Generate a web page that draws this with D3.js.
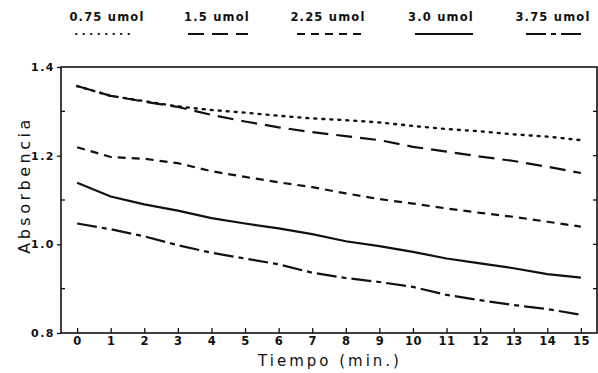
<!DOCTYPE html>
<html>
<head>
<meta charset="utf-8">
<script src="https://cdn.jsdelivr.net/npm/d3@7"></script>
<style>
  body { margin: 0; background: #fff; }
  text { font-family: "DejaVu Sans", sans-serif; fill: #111; }
</style>
</head>
<body>
<div id="chart"></div>
<script>
// time in minutes
const minutes = [0, 1, 2, 3, 4, 5, 6, 7, 8, 9, 10, 11, 12, 13, 14, 15];
const xTicks = minutes;
const yTicks = [0.8, 1.0, 1.2, 1.4];
const yMinor = [0.9, 1.1, 1.3];

// absorbance readings per concentration
const umol075 = [1.357, 1.335, 1.323, 1.311, 1.303, 1.297, 1.290, 1.284, 1.280, 1.275, 1.267, 1.260, 1.255, 1.248, 1.243, 1.235];
const umol150 = [1.357, 1.335, 1.322, 1.310, 1.292, 1.277, 1.264, 1.253, 1.244, 1.235, 1.220, 1.209, 1.198, 1.188, 1.175, 1.161];
const umol225 = [1.219, 1.197, 1.193, 1.183, 1.165, 1.152, 1.140, 1.129, 1.115, 1.102, 1.092, 1.081, 1.071, 1.062, 1.051, 1.040];
const umol300 = [1.139, 1.108, 1.090, 1.076, 1.059, 1.047, 1.036, 1.023, 1.007, 0.996, 0.983, 0.968, 0.957, 0.946, 0.933, 0.925];
const umol375 = [1.047, 1.034, 1.018, 0.998, 0.981, 0.968, 0.955, 0.936, 0.924, 0.915, 0.904, 0.886, 0.874, 0.863, 0.854, 0.841];

const labels = ["0.75 umol", "1.5 umol", "2.25 umol", "3.0 umol", "3.75 umol"];
const series = [umol075, umol150, umol225, umol300, umol375];
const dashes = ["2,6", "16,8", "8,6", null, "20,5,5,5"];

const width = 598, height = 373;
const margin = {top: 67, right: 1, bottom: 40, left: 61};

const svg = d3.select("#chart").append("svg")
  .attr("width", width)
  .attr("height", height);

const x = d3.scaleLinear()
  .domain([-0.48, 15.48])
  .range([margin.left, width - margin.right]);
const y = d3.scaleLinear()
  .domain([0.8, 1.4])
  .range([height - margin.bottom, margin.top]);

// frame
svg.append("rect")
  .attr("x", x.range()[0]).attr("y", y(1.4))
  .attr("width", x.range()[1] - x.range()[0])
  .attr("height", y(0.8) - y(1.4))
  .attr("fill", "none").attr("stroke", "#111").attr("stroke-width", 1.6);

// x axis, ticks point up into the plot
const xAxis = svg.append("g")
  .attr("transform", "translate(0," + y(0.8) + ")")
  .call(d3.axisBottom(x).tickValues(xTicks).tickSizeInner(-5).tickSizeOuter(0).tickPadding(4));
xAxis.select(".domain").remove();
xAxis.selectAll("line").attr("stroke", "#111").attr("stroke-width", 1.3);
xAxis.selectAll("text")
  .style("font-size", "11.5px").style("font-weight", "bold").style("letter-spacing", "0.5px");

// y axis
const yAxis = svg.append("g")
  .attr("transform", "translate(" + x.range()[0] + ",0)")
  .call(d3.axisLeft(y).tickValues(yTicks).tickFormat(d3.format(".1f")).tickSizeInner(4).tickSizeOuter(0).tickPadding(2));
yAxis.select(".domain").remove();
yAxis.selectAll("line").attr("stroke", "#111").attr("stroke-width", 1.3);
yAxis.selectAll("text")
  .style("font-size", "11px").style("font-weight", "bold").style("letter-spacing", "1.5px");

// minor ticks inside, both sides
svg.append("g").selectAll("line")
  .data(yMinor)
  .join("line")
    .attr("x1", x.range()[0]).attr("x2", x.range()[0] + 4)
    .attr("y1", d => y(d)).attr("y2", d => y(d))
    .attr("stroke", "#111").attr("stroke-width", 1.3);
svg.append("g").selectAll("line")
  .data(yMinor.concat([1.0, 1.2]))
  .join("line")
    .attr("x1", x.range()[1]).attr("x2", x.range()[1] - 4)
    .attr("y1", d => y(d)).attr("y2", d => y(d))
    .attr("stroke", "#111").attr("stroke-width", 1.3);

// axis titles
svg.append("text")
  .attr("x", 330).attr("y", 366)
  .attr("text-anchor", "middle")
  .style("font-size", "15px").style("letter-spacing", "3px")
  .text("Tiempo (min.)");
svg.append("text")
  .attr("transform", "translate(30,185) rotate(-90)")
  .attr("text-anchor", "middle")
  .style("font-size", "16px").style("letter-spacing", "3.5px")
  .text("Absorbencia");

// data lines
const line = d3.line()
  .x((d, i) => x(minutes[i]))
  .y(d => y(d));

svg.append("g").selectAll("path")
  .data(series)
  .join("path")
    .attr("d", line)
    .attr("fill", "none")
    .attr("stroke", "#111")
    .attr("stroke-width", (d, i) => i === 0 ? 2.4 : 2.2)
    .attr("stroke-linecap", (d, i) => i === 0 ? "round" : "butt")
    .attr("stroke-dasharray", (d, i) => dashes[i]);

// legend
const legendX = [107, 217, 328, 441, 553];
const legendSpan = [[76, 130], [188, 248], [297, 361], [415, 473], [526, 585]];
const legend = svg.append("g").selectAll("g")
  .data(labels)
  .join("g");
legend.append("text")
  .attr("x", (d, i) => legendX[i]).attr("y", 21)
  .attr("text-anchor", "middle")
  .style("font-size", "11.5px").style("font-weight", "bold").style("letter-spacing", "1.2px")
  .text(d => d);
legend.append("line")
  .attr("x1", (d, i) => legendSpan[i][0]).attr("x2", (d, i) => legendSpan[i][1])
  .attr("y1", 34).attr("y2", 34)
  .attr("stroke", "#111").attr("stroke-width", 2)
  .attr("stroke-linecap", (d, i) => i === 0 ? "round" : "butt")
  .attr("stroke-dasharray", (d, i) => dashes[i] === "2,6" ? "0.5,7" : dashes[i]);
</script>
</body>
</html>
